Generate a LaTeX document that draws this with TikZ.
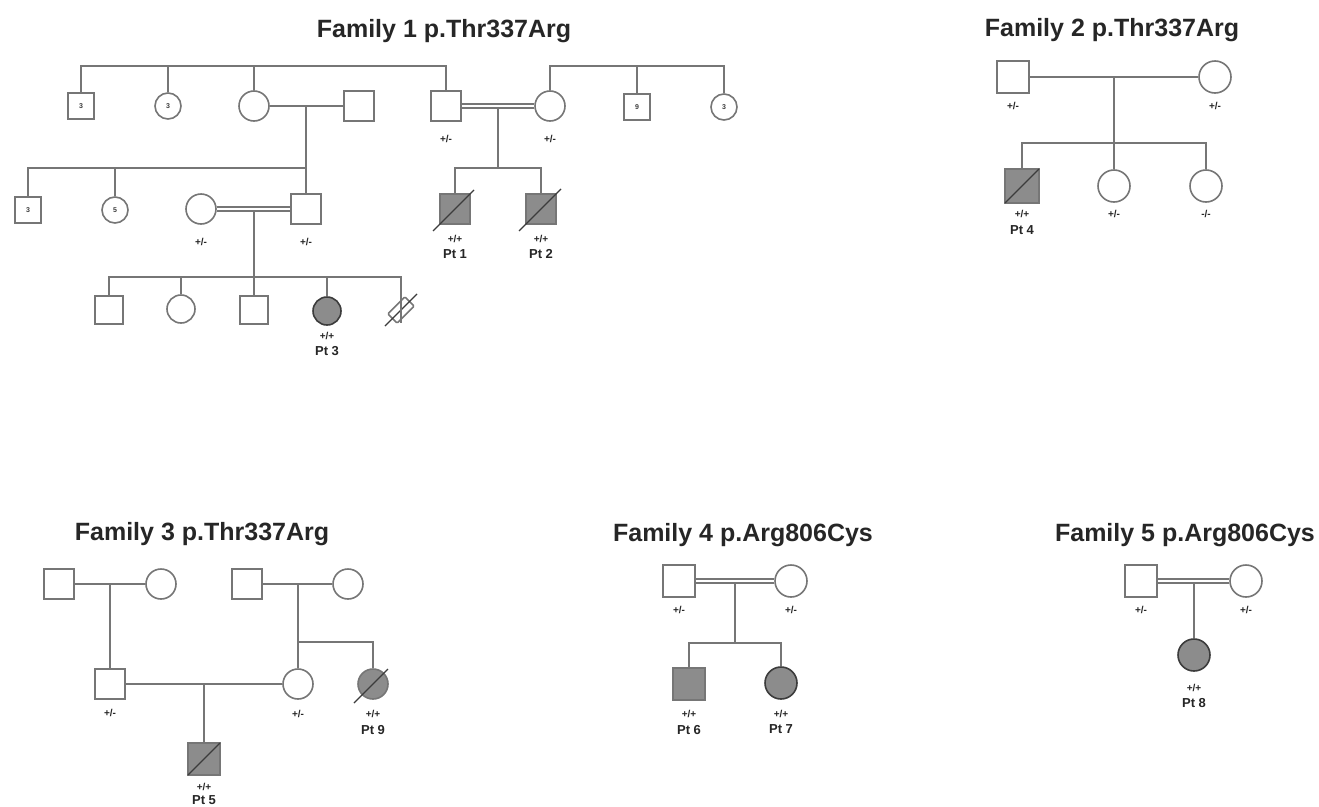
\documentclass[tikz,border=0pt]{standalone}
\usepackage{fontspec}
\setmainfont{Liberation Sans}
\usetikzlibrary{positioning,calc}

\definecolor{pedline}{HTML}{767676}
\definecolor{pedfill}{HTML}{8C8C8C}
\definecolor{pedslash}{HTML}{3C3C3C}

\tikzset{
  ped/.style={draw=pedline, line width=1.6pt, inner sep=0pt, fill=white},
  male/.style={ped, rectangle, minimum size=30pt},
  female/.style={ped, circle, minimum size=30pt},
  petit/.style={minimum size=26pt, font=\fontsize{7}{7}\selectfont\bfseries, text=pedslash},
  moyen/.style={minimum size=28pt},
  grand/.style={minimum size=32pt},
  atteint/.style={fill=pedfill},
  lien/.style={draw=pedline, line width=1.6pt},
  consang/.style={draw=pedline, double=white, double distance=2.4pt, line width=1.4pt},
  geno/.style={inner sep=0pt, text height=8pt, text depth=1pt, font=\fontsize{10}{10}\selectfont\bfseries, text=black!85},
  patient/.style={inner sep=0pt, text height=10pt, text depth=0pt, font=\fontsize{13}{13}\selectfont\bfseries, text=black!85},
  titre/.style={anchor=base, font=\fontsize{25}{25}\selectfont\bfseries, text=black!85},
  mort/.style={draw=pedslash, line width=1.3pt},
}
\newcommand{\deadmark}[3]{\draw[mort] ([shift={(-#2,#2)}]#1.center) -- ([shift={(#3,-#3)}]#1.center);}

\begin{document}
\begin{tikzpicture}[x=1pt,y=-1pt]
\useasboundingbox[fill=white] (0,0) rectangle (1319,806);

%% titres
\node[titre] (t1) at (444,37) {Family 1 p.Thr337Arg};
\node[titre] (t2) at (1112,36) {Family 2 p.Thr337Arg};
\node[titre] (t3) at (202,540) {Family 3 p.Thr337Arg};
\node[titre] (t4) at (743,541) {Family 4 p.Arg806Cys};
\node[titre] (t5) at (1185,541) {Family 5 p.Arg806Cys};

%% ---------------- famille 1 ----------------
%% premiere generation
\node[male,petit] (a1) at (81,106) {3};
\node[female,petit] (a2) at (168,106) {3};
\node[female] (a3) at (254,106) {};
\node[male] (a4) at (359,106) {};
\node[male] (a5) at (446,106) {};
\node[female] (a6) at (550,106) {};
\node[male,petit] (a7) at (637,107) {9};
\node[female,petit] (a8) at (724,107) {3};
\coordinate (g1) at (0,66);
\coordinate (m1) at (306,106);
\coordinate (m2) at (498,106);

\draw[lien] (a1.north) |- (a5.north |- g1) -- (a5.north); %% fratrie de gauche
\draw[lien] (a2.north) -- (a2.north |- g1);
\draw[lien] (a3.north) -- (a3.north |- g1);
\draw[lien] (a6.north) |- (a8.north |- g1) -- (a8.north); %% fratrie de droite
\draw[lien] (a7.north) -- (a7.north |- g1);

\draw[lien] (a3.east) -- (a4.west);
\draw[consang] (a5.east) -- (a6.west);

\node[geno,below=12pt of a5] (a5g) {+/-};
\node[geno,below=12pt of a6] (a6g) {+/-};

%% deuxieme generation
\node[male,petit] (b1) at (28,210) {3};
\node[female,petit] (b2) at (115,210) {5};
\node[female] (b3) at (201,209) {};
\node[male] (b4) at (m1 |- 0,209) {};
\coordinate (g2) at (0,168);
\coordinate (m3) at (254,209);

\draw[lien] (m1) -- (b4.north);
\draw[lien] (b1.north) |- (m1 |- g2);
\draw[lien] (b2.north) -- (b2.north |- g2);
\draw[consang] (b3.east) -- (b4.west);

\node[geno,below=12pt of b3] (b3g) {+/-};
\node[geno,below=12pt of b4] (b4g) {+/-};

%% enfants de a5 et a6
\node[male,atteint] (d1) at (455,209) {};
\node[male,atteint] (d2) at (541,209) {};
\deadmark{d1}{22}{19}
\deadmark{d2}{22}{20}
\coordinate (g4) at (0,168);
\draw[lien] ([yshift=-2pt]m2) -- (m2 |- g4);
\draw[lien] (d1.north) |- (d2.north |- g4) -- (d2.north);
\node[geno,below=9pt of d1] (d1g) {+/+};
\node[patient,below=5pt of d1g] (d1p) {Pt 1};
\node[geno,below=9pt of d2] (d2g) {+/+};
\node[patient,below=5pt of d2g] (d2p) {Pt 2};

%% troisieme generation
\node[male,moyen] (c1) at (109,310) {};
\node[female,moyen] (c2) at (181,309) {};
\node[male,moyen] (c3) at (m3 |- 0,310) {};
\node[female,moyen,atteint,draw=pedslash] (c4) at (327,311) {};
\node[ped,rectangle,rotate=45,minimum width=24pt,minimum height=13pt,rounded corners=1pt] (c5) at (401,310) {};
\deadmark{c5}{16}{16}
\coordinate (g3) at (0,277);

\draw[lien] ([yshift=-2pt]m3) -- (c3.north);
\draw[lien] (c1.north) |- ($(c5.center |- g3)$) -- ([yshift=-13pt]c5.center);
\draw[lien] (c2.north) -- (c2.north |- g3);
\draw[lien] (c4.north) -- (c4.north |- g3);
\node[geno,below=5pt of c4] (c4g) {+/+};
\node[patient,below=5pt of c4g] (c4p) {Pt 3};

%% ---------------- famille 2 ----------------
\node[male,grand] (e1) at (1013,77) {};
\node[female,grand] (e2) at (1215,77) {};
\coordinate (m4) at (1114,77);
\draw[lien] (e1.east) -- (e2.west);
\node[geno,below=7pt of e1] (e1g) {+/-};
\node[geno,below=7pt of e2] (e2g) {+/-};

\node[male,minimum size=34pt,atteint] (e3) at (1022,186) {};
\node[female,grand] (e4) at (m4 |- 0,186) {};
\node[female,grand] (e5) at (1206,186) {};
\deadmark{e3}{17}{17}
\coordinate (g5) at (0,143);
\draw[lien] (m4) -- (e4.north);
\draw[lien] (e3.north) |- (e5.north |- g5) -- (e5.north);
\node[geno,below=5pt of e3] (e3g) {+/+};
\node[patient,below=6pt of e3g] (e3p) {Pt 4};
\node[geno,below=6pt of e4] (e4g) {+/-};
\node[geno,below=6pt of e5] (e5g) {-/-};

%% ---------------- famille 3 ----------------
\node[male] (h1) at (59,584) {};
\node[female] (h2) at (161,584) {};
\node[male] (h3) at (247,584) {};
\node[female] (h4) at (348,584) {};
\coordinate (m5) at (110,584);
\coordinate (m6) at (298,584);
\draw[lien] (h1.east) -- (h2.west);
\draw[lien] (h3.east) -- (h4.west);

\node[male] (k1) at (m5 |- 0,684) {};
\node[female] (k2) at (m6 |- 0,684) {};
\node[female,atteint] (k3) at (373,684) {};
\deadmark{k3}{19}{15}
\coordinate (g6) at (0,642);
\coordinate (m7) at (204,684);
\draw[lien] (m5) -- (k1.north);
\draw[lien] (m6) -- (k2.north);
\draw[lien] (m6 |- g6) -| (k3.north);

\draw[lien] (k1.east) -- (k2.west);
\node[geno,below=8pt of k1] (k1g) {+/-};
\node[geno,below=9pt of k2] (k2g) {+/-};
\node[geno,below=9pt of k3] (k3g) {+/+};
\node[patient,below=6pt of k3g] (k3p) {Pt 9};

\node[male,minimum size=32pt,atteint] (k4) at (m7 |- 0,759) {};
\deadmark{k4}{16}{16}
\draw[lien] (m7) -- (k4.north);
\node[geno,below=6pt of k4] (k4g) {+/+};
\node[patient,below=3pt of k4g] (k4p) {Pt 5};

%% ---------------- famille 4 ----------------
\node[male,grand] (n1) at (679,581) {};
\node[female,grand] (n2) at (791,581) {};
\coordinate (m8) at (735,581);
\draw[consang] (n1.east) -- (n2.west);
\node[geno,below=7pt of n1] (n1g) {+/-};
\node[geno,below=7pt of n2] (n2g) {+/-};

\node[male,grand,atteint] (n3) at (689,684) {};
\node[female,grand,atteint,draw=pedslash] (n4) at (781,683) {};
\coordinate (g7) at (0,643);
\draw[lien] ([yshift=-2pt]m8) -- (m8 |- g7);
\draw[lien] (n3.north) |- (n4.north |- g7) -- (n4.north);
\node[geno,below=8pt of n3] (n3g) {+/+};
\node[patient,below=6pt of n3g] (n3p) {Pt 6};
\node[geno,below=9pt of n4] (n4g) {+/+};
\node[patient,below=5pt of n4g] (n4p) {Pt 7};

%% ---------------- famille 5 ----------------
\node[male,grand] (q1) at (1141,581) {};
\node[female,grand] (q2) at (1246,581) {};
\coordinate (m9) at (1194,581);
\draw[consang] (q1.east) -- (q2.west);
\node[geno,below=7pt of q1] (q1g) {+/-};
\node[geno,below=7pt of q2] (q2g) {+/-};

\node[female,grand,atteint,draw=pedslash] (q3) at (m9 |- 0,655) {};
\draw[lien] ([yshift=-2pt]m9) -- (q3.north);
\node[geno,below=11pt of q3] (q3g) {+/+};
\node[patient,below=5pt of q3g] (q3p) {Pt 8};

\end{tikzpicture}
\end{document}
